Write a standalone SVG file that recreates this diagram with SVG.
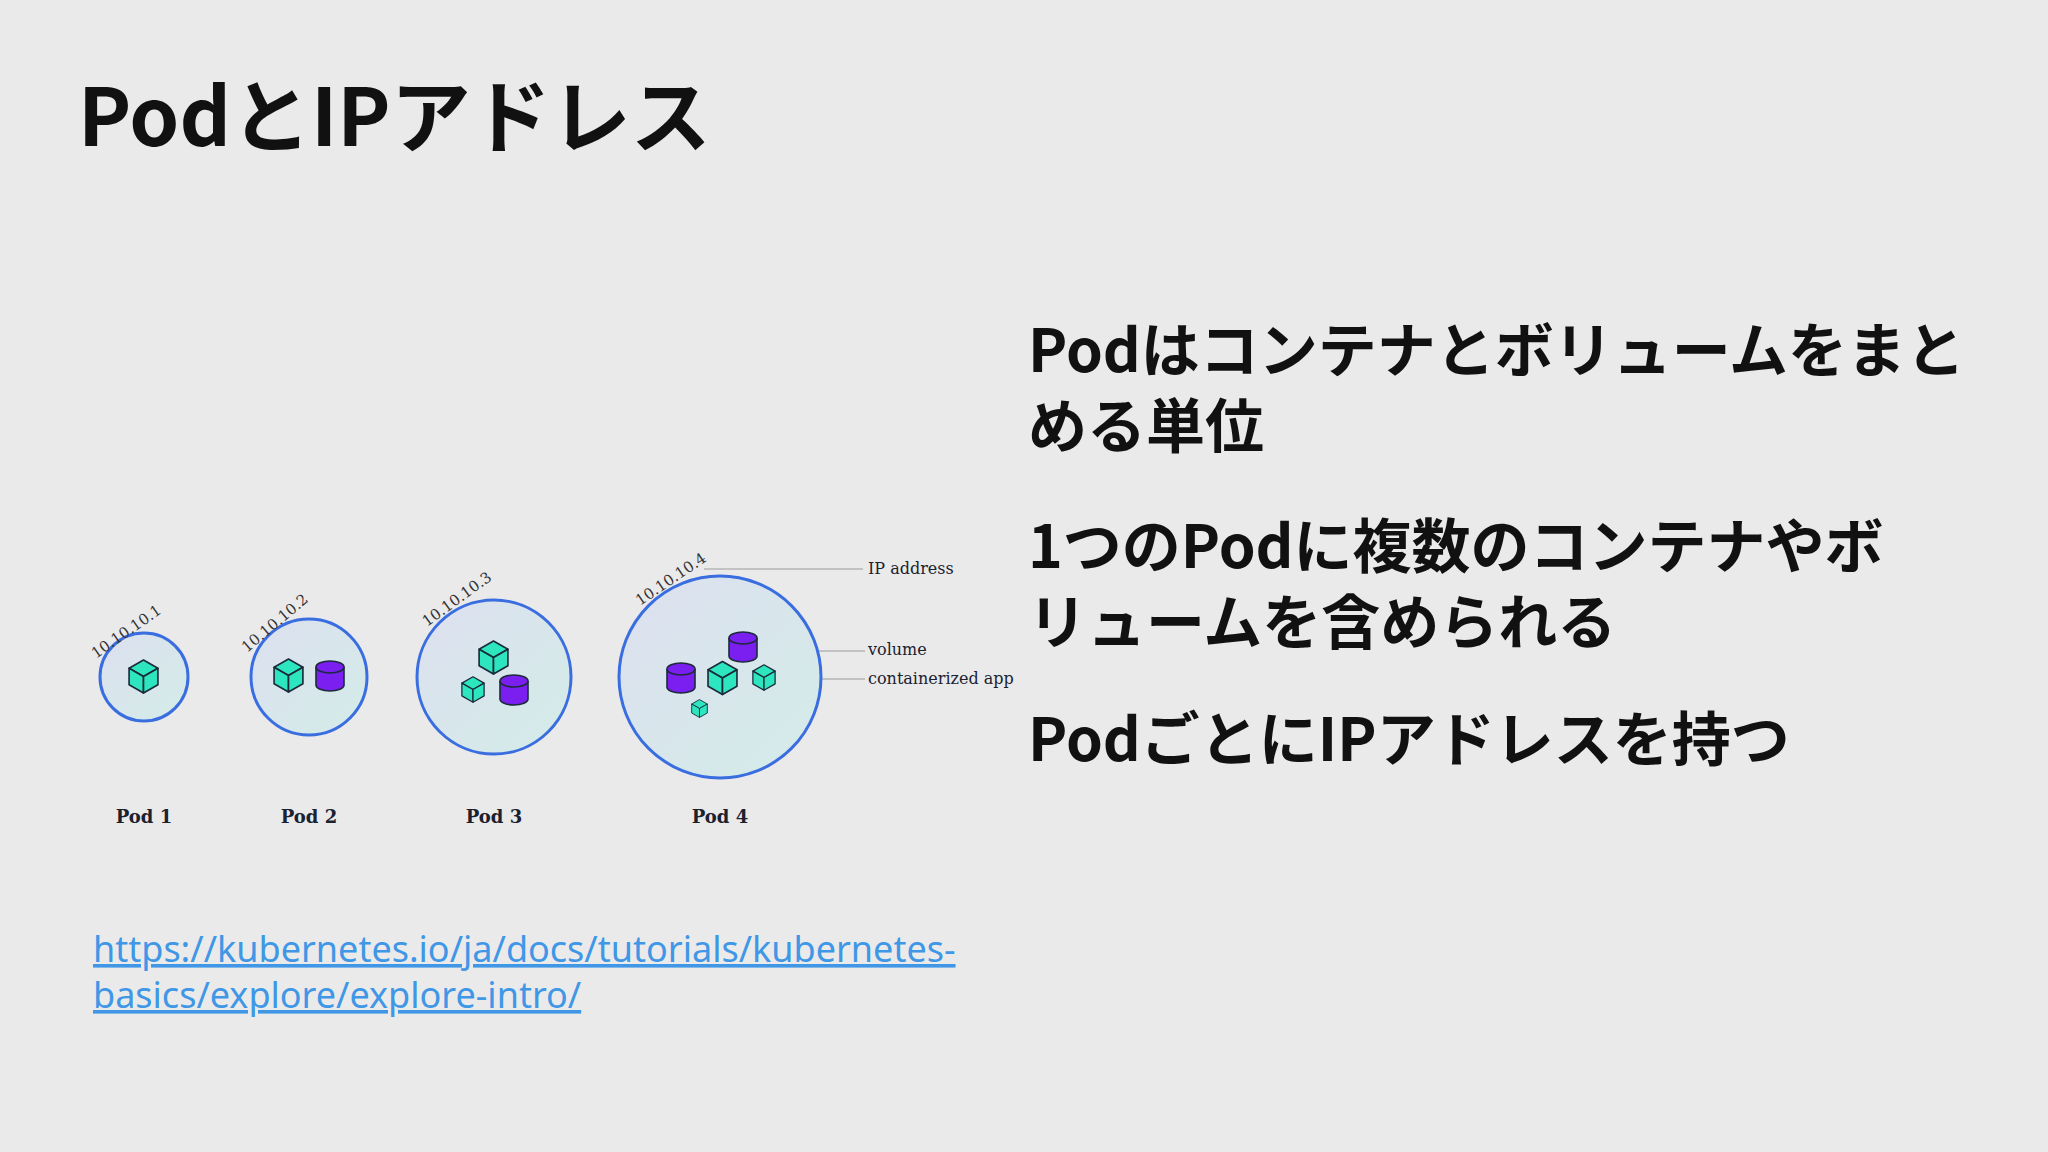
<svg xmlns="http://www.w3.org/2000/svg" xmlns:xlink="http://www.w3.org/1999/xlink" width="2048" height="1152" viewBox="0 0 2048 1152">
<style>
.pod{fill:url(#pg);stroke:#3a6ee0;stroke-width:3}
.ip{font-family:"DejaVu Serif","Liberation Serif",serif;font-size:15px;fill:#333}
.lbl{font-family:"DejaVu Serif","Liberation Serif",serif;font-size:16px;fill:#1a2230}
.pl{font-family:"DejaVu Serif","Liberation Serif",serif;font-weight:bold;font-size:18px;fill:#1a2230;text-anchor:middle}
.ln{stroke:#999;stroke-width:1.2;fill:none}
.jp{font-family:"Noto Sans CJK JP",sans-serif;font-weight:bold;font-size:59px;fill:#111}
.link{font-family:"Noto Sans","Open Sans",sans-serif;font-size:36px;fill:#3f97e6;text-decoration:underline}
</style>
<defs>
<linearGradient id="pg" x1="0" y1="0" x2="1" y2="1"><stop offset="0" stop-color="#dde0ef"/><stop offset="1" stop-color="#d3ece8"/></linearGradient>
<symbol id="cube" viewBox="0 0 30 34" overflow="visible"><g fill="#2de6c0" stroke="#1b2b3b" stroke-width="1.6" stroke-linejoin="round"><polygon points="15,1 29,9 15,17 1,9"/><polygon points="1,9 15,17 15,33 1,25"/><polygon points="15,17 29,9 29,25 15,33"/></g></symbol>
<symbol id="cyl" viewBox="0 0 30 32" overflow="visible"><g fill="#7a1ff0" stroke="#1b2b3b" stroke-width="1.6"><path d="M1,7 V25 A14,6 0 0 0 29,25 V7"/><ellipse cx="15" cy="7" rx="14" ry="6"/></g></symbol>
</defs>
<rect width="2048" height="1152" fill="#ebeaeb"/>
<text x="78" y="146" font-family="Noto Sans CJK JP,sans-serif" font-weight="bold" font-size="80" fill="#111">PodとIPアドレス</text>
<g id="text">
<text class="jp" x="1028" y="372">Podはコンテナとボリュームをまと</text>
<text class="jp" x="1028" y="448">める単位</text>
<text class="jp" x="1028" y="568">1つのPodに複数のコンテナやボ</text>
<text class="jp" x="1028" y="644">リュームを含められる</text>
<text class="jp" x="1028" y="761">PodごとにIPアドレスを持つ</text>
</g>
<g id="link">
<text class="link" x="93" y="962">https://kubernetes.io/ja/docs/tutorials/kubernetes-</text>
<text class="link" x="93" y="1008">basics/explore/explore-intro/</text>
</g>
<g id="connectors">
<path class="ln" d="M704,569 H863"/>
<path class="ln" d="M759,651 H865"/>
<path class="ln" d="M772,679 H865"/>
</g>
<g id="pod1">
<circle class="pod" cx="144" cy="677" r="44"/>
<use href="#cube" x="128" y="659" width="31" height="35"/>
<text class="ip" transform="translate(96,659) rotate(-35)">10.10.10.1</text>
<text class="pl" x="144" y="823">Pod 1</text>
</g>
<g id="pod2">
<circle class="pod" cx="309" cy="677" r="58"/>
<use href="#cube" x="273" y="658" width="31" height="35"/>
<use href="#cyl" x="315" y="660" width="30" height="32"/>
<text class="ip" transform="translate(247,653) rotate(-40)">10.10.10.2</text>
<text class="pl" x="309" y="823">Pod 2</text>
</g>
<g id="pod3">
<circle class="pod" cx="494" cy="677" r="77"/>
<use href="#cube" x="478" y="640" width="31" height="35"/>
<use href="#cube" x="461" y="676" width="24" height="27"/>
<use href="#cyl" x="499" y="674" width="30" height="32"/>
<text class="ip" transform="translate(427,627) rotate(-36)">10.10.10.3</text>
<text class="pl" x="494" y="823">Pod 3</text>
</g>
<g id="pod4">
<circle class="pod" cx="720" cy="677" r="101"/>
<use href="#cyl" x="728" y="631" width="30" height="32"/>
<use href="#cyl" x="666" y="662" width="30" height="32"/>
<use href="#cube" x="707" y="660" width="31" height="36"/>
<use href="#cube" x="752" y="664" width="24" height="27"/>
<use href="#cube" x="691" y="699" width="17" height="19"/>
<text class="ip" transform="translate(640,606) rotate(-34)">10.10.10.4</text>
<text class="lbl" x="868" y="574">IP address</text>
<text class="lbl" x="868" y="655">volume</text>
<text class="lbl" x="868" y="684">containerized app</text>
<text class="pl" x="720" y="823">Pod 4</text>
</g>
</svg>
